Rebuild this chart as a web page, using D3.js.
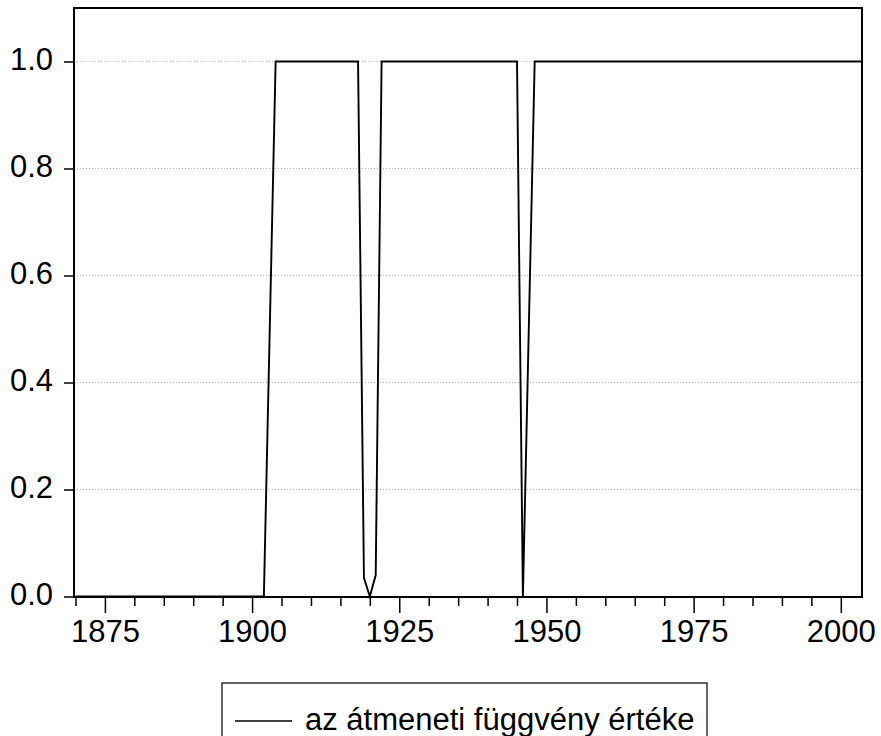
<!DOCTYPE html>
<html>
<head>
<meta charset="utf-8">
<script src="https://cdn.jsdelivr.net/npm/d3@7"></script>
<style>
  body { margin: 0; background: #fff; }
  svg { display: block; }
  text { font-family: "Liberation Sans", Arial, sans-serif; }
</style>
</head>
<body>
<div id="chart"></div>
<script>
// annual observations, first one is 1870
const firstYear = 1870
const values = [
  0, 0, 0, 0, 0, 0, 0, 0, 0, 0,           // 1870s
  0, 0, 0, 0, 0, 0, 0, 0, 0, 0,           // 1880s
  0, 0, 0, 0, 0, 0, 0, 0, 0, 0,           // 1890s
  0, 0, 0, 0.5, 1, 1, 1, 1, 1, 1,         // 1900s
  1, 1, 1, 1, 1, 1, 1, 1, 1, 0.035,       // 1910s
  0, 0.04, 1, 1, 1, 1, 1, 1, 1, 1,        // 1920s
  1, 1, 1, 1, 1, 1, 1, 1, 1, 1,           // 1930s
  1, 1, 1, 1, 1, 1, 0, 0.5, 1, 1,         // 1940s
  1, 1, 1, 1, 1, 1, 1, 1, 1, 1,           // 1950s
  1, 1, 1, 1, 1, 1, 1, 1, 1, 1,           // 1960s
  1, 1, 1, 1, 1, 1, 1, 1, 1, 1,           // 1970s
  1, 1, 1, 1, 1, 1, 1, 1, 1, 1,           // 1980s
  1, 1, 1, 1, 1, 1, 1, 1, 1, 1,           // 1990s
  1, 1, 1, 1, 1                           // 2000-2004
]
const yTicks = [0, 0.2, 0.4, 0.6, 0.8, 1.0]
const xMajorTicks = [1875, 1900, 1925, 1950, 1975, 2000]
const xMinorTicks = [1870, 1880, 1885, 1890, 1895, 1905, 1910, 1915, 1920, 1930, 1935, 1940, 1945,
  1955, 1960, 1965, 1970, 1980, 1985, 1990, 1995]
const legendLabel = "az átmeneti függvény értéke"

const width = 881, height = 736
const frame = { left: 74, top: 8, right: 862, bottom: 597 }

const series = values.map((v, i) => ({ year: firstYear + i, value: v }))

const x = d3.scaleLinear()
  .domain([1869.75, 2003.6])
  .range([frame.left, frame.right])

const y = d3.scaleLinear()
  .domain([0, 1.1])
  .range([frame.bottom - 0.5, frame.top])

const svg = d3.select("#chart")
  .append("svg")
  .attr("width", width)
  .attr("height", height)

// clip left/right only, let the zero line sit on the frame
svg.append("clipPath")
  .attr("id", "plot-clip")
  .append("rect")
    .attr("x", frame.left)
    .attr("y", frame.top)
    .attr("width", frame.right - frame.left)
    .attr("height", frame.bottom - frame.top + 4)

// dotted horizontal grid
svg.append("g")
  .selectAll("line")
  .data(yTicks.filter(d => d > 0))
  .enter()
    .append("line")
    .attr("x1", frame.left)
    .attr("x2", frame.right)
    .attr("y1", d => y(d))
    .attr("y2", d => y(d))
    .attr("stroke", "#b8b8b8")
    .attr("stroke-width", 1)
    .attr("stroke-dasharray", "1,2")

// y axis
const yAxis = svg.append("g")
  .attr("transform", `translate(${frame.left},0)`)
  .call(d3.axisLeft(y).tickValues(yTicks).tickSize(10).tickPadding(11).tickFormat(d3.format(".1f")))
yAxis.select(".domain").remove()
yAxis.selectAll(".tick line").attr("stroke", "#000").attr("stroke-width", 1.5)
yAxis.selectAll(".tick text")
  .attr("dy", "0.25em")
  .attr("fill", "#000")
  .style("font-size", "31px")
  .style("font-family", '"Liberation Sans", Arial, sans-serif')

// x axis: minor and major ticks
const xMinor = svg.append("g")
  .attr("transform", `translate(0,${frame.bottom})`)
  .call(d3.axisBottom(x).tickValues(xMinorTicks).tickSize(9).tickFormat(""))
xMinor.select(".domain").remove()
xMinor.selectAll(".tick line").attr("stroke", "#000").attr("stroke-width", 1.5)

const xMajor = svg.append("g")
  .attr("transform", `translate(0,${frame.bottom})`)
  .call(d3.axisBottom(x).tickValues(xMajorTicks).tickSize(16).tickPadding(7).tickFormat(d3.format("d")))
xMajor.select(".domain").remove()
xMajor.selectAll(".tick line").attr("stroke", "#000").attr("stroke-width", 1.5)
xMajor.selectAll(".tick text")
  .attr("fill", "#000")
  .style("font-size", "31px")
  .style("font-family", '"Liberation Sans", Arial, sans-serif')

// frame
svg.append("rect")
  .attr("x", frame.left)
  .attr("y", frame.top)
  .attr("width", frame.right - frame.left)
  .attr("height", frame.bottom - frame.top)
  .attr("fill", "none")
  .attr("stroke", "#000")
  .attr("stroke-width", 2)

// the series
const line = d3.line()
  .x(d => x(d.year))
  .y(d => y(d.value))

svg.append("path")
  .datum(series)
  .attr("clip-path", "url(#plot-clip)")
  .attr("d", line)
  .attr("fill", "none")
  .attr("stroke", "#000")
  .attr("stroke-width", 1.9)
  .attr("stroke-linejoin", "miter")

// legend
const legend = svg.append("g")
legend.append("rect")
  .attr("x", 222)
  .attr("y", 683)
  .attr("width", 485)
  .attr("height", 80)
  .attr("fill", "#fff")
  .attr("stroke", "#000")
  .attr("stroke-width", 1.2)
legend.append("line")
  .attr("x1", 235)
  .attr("x2", 292)
  .attr("y1", 721)
  .attr("y2", 721)
  .attr("stroke", "#000")
  .attr("stroke-width", 1.5)
legend.append("text")
  .attr("x", 305)
  .attr("y", 730)
  .attr("fill", "#000")
  .style("font-size", "31px")
  .text(legendLabel)
</script>
</body>
</html>
